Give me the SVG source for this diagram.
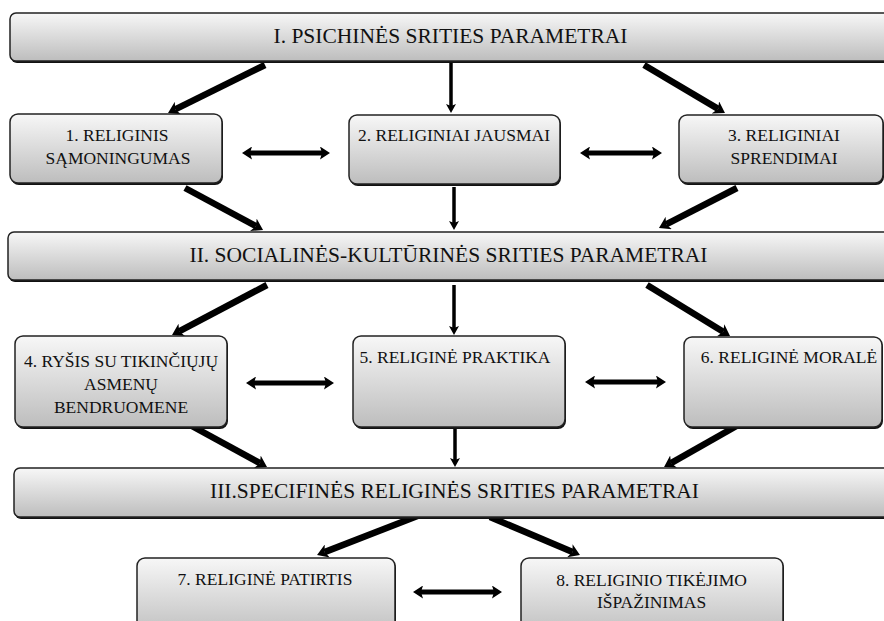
<svg xmlns="http://www.w3.org/2000/svg" width="884" height="621" viewBox="0 0 884 621">
<defs>
<linearGradient id="g" x1="0" y1="0" x2="0" y2="1">
<stop offset="0" stop-color="#f7f7f7"/>
<stop offset="1" stop-color="#bdbdbd"/>
</linearGradient>
<marker id="ha" markerUnits="userSpaceOnUse" markerWidth="12" markerHeight="14" refX="3" refY="7" orient="auto">
<path d="M0,0 L11,7 L0,14 L3,7 z" fill="#000"/>
</marker>
<marker id="hv" markerUnits="userSpaceOnUse" markerWidth="10" markerHeight="10" refX="2" refY="5" orient="auto">
<path d="M0,0 L9,5 L0,10 L2,5 z" fill="#000"/>
</marker>
<marker id="hd" markerUnits="userSpaceOnUse" markerWidth="11" markerHeight="13" refX="2" refY="6.5" orient="auto-start-reverse">
<path d="M0,0 L10,6.5 L0,13 L2,6.5 z" fill="#000"/>
</marker>
</defs>
<style>
.sh{fill:#111;}
.bx{fill:url(#g);stroke:#222;stroke-width:1.5;}
text{fill:#111;text-anchor:middle;}
.big{font-size:21.5px;}
.sm{font-size:17.5px;}
.da{stroke:#000;stroke-width:6.5;fill:none;marker-end:url(#ha);}
.va{stroke:#000;stroke-width:3.5;fill:none;marker-end:url(#hv);}
.dd{stroke:#000;stroke-width:5;fill:none;marker-start:url(#hd);marker-end:url(#hd);}
</style>
<rect width="884" height="621" fill="#fff"/>

<g id="connectors">
<line class="da" x1="265" y1="65" x2="175.2" y2="109.4"/>
<line class="va" x1="451" y1="62" x2="451" y2="106"/>
<line class="da" x1="644" y1="65" x2="718.1" y2="108.9"/>
<line class="dd" x1="250" y1="153" x2="322" y2="153"/>
<line class="dd" x1="588" y1="153" x2="654" y2="153"/>
<line class="da" x1="185" y1="188" x2="256" y2="226.2"/>
<line class="va" x1="454" y1="187" x2="454" y2="223"/>
<line class="da" x1="737" y1="188" x2="666.1" y2="224.4"/>
<line class="da" x1="267" y1="285" x2="179.1" y2="331.3"/>
<line class="va" x1="454" y1="285" x2="454" y2="328"/>
<line class="da" x1="647" y1="285" x2="723.2" y2="331.8"/>
<line class="dd" x1="254" y1="383" x2="326" y2="383"/>
<line class="dd" x1="593" y1="382" x2="658" y2="382"/>
<line class="da" x1="190" y1="425" x2="260" y2="463.2"/>
<line class="va" x1="455" y1="427" x2="455" y2="460"/>
<line class="da" x1="740" y1="424" x2="671" y2="463.1"/>
<line class="da" x1="420" y1="515" x2="324.5" y2="552.1"/>
<line class="da" x1="490" y1="517" x2="572.6" y2="551.9"/>
<line class="dd" x1="421" y1="592" x2="494" y2="592"/>
</g>

<g font-family="'Liberation Serif', 'Times New Roman', 'DejaVu Serif', serif">
<g id="bar1">
<rect class="sh" x="11" y="15" width="890" height="48" rx="6"/>
<rect class="bx" x="10" y="13" width="890" height="48" rx="6"/>
<text class="big" x="450.5" y="43">I. PSICHINĖS SRITIES PARAMETRAI</text>
</g>
<g id="node1">
<rect class="sh" x="11" y="116" width="212" height="69" rx="8"/>
<rect class="bx" x="10" y="114" width="212" height="69" rx="8"/>
<text class="sm" x="117" y="141">1. RELIGINIS</text>
<text class="sm" x="118" y="164">SĄMONINGUMAS</text>
</g>
<g id="node2">
<rect class="sh" x="350" y="117" width="211" height="69" rx="8"/>
<rect class="bx" x="349" y="115" width="211" height="69" rx="8"/>
<text class="sm" x="454" y="141">2. RELIGINIAI JAUSMAI</text>
</g>
<g id="node3">
<rect class="sh" x="680" y="117" width="204" height="68" rx="8"/>
<rect class="bx" x="679" y="115" width="204" height="68" rx="8"/>
<text class="sm" x="784" y="141">3. RELIGINIAI</text>
<text class="sm" x="784" y="164">SPRENDIMAI</text>
</g>
<g id="bar2">
<rect class="sh" x="9" y="234" width="890" height="48" rx="6"/>
<rect class="bx" x="8" y="232" width="890" height="48" rx="6"/>
<text class="big" x="448.5" y="262">II. SOCIALINĖS-KULTŪRINĖS SRITIES PARAMETRAI</text>
</g>
<g id="node4">
<rect class="sh" x="16" y="338" width="212" height="91" rx="8"/>
<rect class="bx" x="15" y="336" width="212" height="91" rx="8"/>
<text class="sm" x="121" y="367">4. RYŠIS SU TIKINČIŲJŲ</text>
<text class="sm" x="121" y="390">ASMENŲ</text>
<text class="sm" x="121" y="413">BENDRUOMENE</text>
</g>
<g id="node5">
<rect class="sh" x="354" y="338" width="212" height="91" rx="8"/>
<rect class="bx" x="353" y="336" width="212" height="91" rx="8"/>
<text class="sm" x="455" y="363">5. RELIGINĖ PRAKTIKA</text>
</g>
<g id="node6">
<rect class="sh" x="685" y="339" width="198" height="90" rx="8"/>
<rect class="bx" x="684" y="337" width="198" height="90" rx="8"/>
<text class="sm" x="789" y="363">6. RELIGINĖ MORALĖ</text>
</g>
<g id="bar3">
<rect class="sh" x="15" y="470" width="890" height="49" rx="6"/>
<rect class="bx" x="14" y="468" width="890" height="49" rx="6"/>
<text class="big" x="454.5" y="498">III.SPECIFINĖS RELIGINĖS SRITIES PARAMETRAI</text>
</g>
<g id="node7">
<rect class="sh" x="138" y="560" width="258" height="80" rx="8"/>
<rect class="bx" x="137" y="558" width="258" height="80" rx="8"/>
<text class="sm" x="265" y="585">7. RELIGINĖ PATIRTIS</text>
</g>
<g id="node8">
<rect class="sh" x="522" y="560" width="262" height="80" rx="8"/>
<rect class="bx" x="521" y="558" width="262" height="80" rx="8"/>
<text class="sm" x="651.5" y="586">8. RELIGINIO TIKĖJIMO</text>
<text class="sm" x="651.5" y="608">IŠPAŽINIMAS</text>
</g>
</g>
</svg>
